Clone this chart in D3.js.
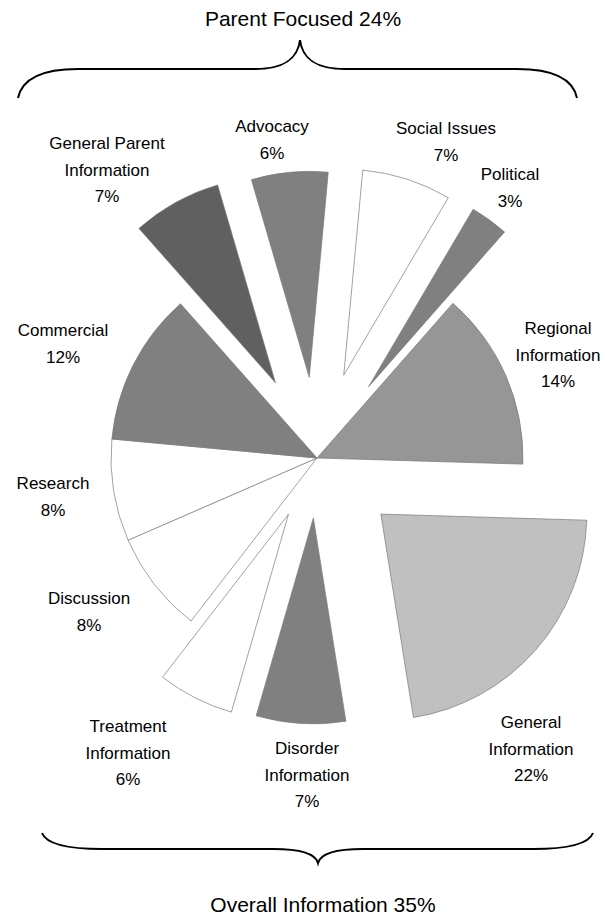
<!DOCTYPE html>
<html lang='en'>
<head>
  <meta charset='utf-8'>
  <script src="https://d3js.org/d3.v7.min.js"></script>
  <title>Exploded pie</title>
  <style>
    body { margin: 0; background: #fff; }
    text { font-family: "Liberation Sans", Arial, sans-serif; fill: #000; }
  </style>
</head>
<body>
  <div id="my_dataviz"></div>

  <script>
    // data (clockwise, starting at General Information)
    const categories = ["General\nInformation", "Disorder\nInformation", "Treatment\nInformation",
      "Discussion", "Research", "Commercial", "General Parent\nInformation", "Advocacy",
      "Social Issues", "Political", "Regional\nInformation"];
    const values = [22, 7, 6, 8, 8, 12, 7, 6, 7, 3, 14];
    const groups = ["Parent Focused", "Overall Information"];
    const groupValues = [24, 35];

    // layout
    const width = 605, height = 920;
    const cx = 317, cy = 458, radius = 206;
    const startDeg = 91.7;
    const explode = [85, 60, 63, 0, 0, 0, 86, 81, 87, 88, 0];
    const fills = ["#c0c0c0", "#808080", "#ffffff", "#ffffff", "#ffffff", "#808080",
      "#606060", "#808080", "#ffffff", "#808080", "#969696"];
    const labelAt = [[531, 722], [307, 748], [128, 726], [89, 598], [53, 483], [63, 330],
      [107, 143], [272, 126], [446, 128], [510, 174], [558, 328]];
    const lineGap = 26.7;

    const svg = d3.select("#my_dataviz")
      .append("svg")
      .attr("width", width)
      .attr("height", height);

    const rad = startDeg * Math.PI / 180;
    const pie = d3.pie().sort(null).startAngle(rad).endAngle(rad + 2 * Math.PI);
    const arc = d3.arc().innerRadius(0).outerRadius(radius);
    const arcs = pie(values);

    // slices
    svg.append("g")
      .attr("transform", `translate(${cx},${cy})`)
      .selectAll("path")
      .data(arcs)
      .join("path")
        .attr("d", arc)
        .attr("transform", function (d, i) {
          const m = (d.startAngle + d.endAngle) / 2;
          return `translate(${explode[i] * Math.sin(m)},${-explode[i] * Math.cos(m)})`;
        })
        .attr("fill", (d, i) => fills[i])
        .attr("stroke", "#7a7a7a")
        .attr("stroke-width", 0.7);

    // slice labels
    const labels = svg.append("g")
      .selectAll("text")
      .data(arcs)
      .join("text")
        .attr("text-anchor", "middle")
        .style("font-size", "17px");
    labels.each(function (d, i) {
      const lines = categories[i].split("\n").concat([values[i] + "%"]);
      d3.select(this).selectAll("tspan")
        .data(lines)
        .join("tspan")
          .attr("x", labelAt[i][0])
          .attr("y", (t, j) => labelAt[i][1] + j * lineGap)
          .attr("dy", "0.35em")
          .text(t => t);
    });

    // curly braces
    function brace(x0, x1, tipX, yEnd, yLine, yTip) {
      const e = (yEnd - yLine) * 0.35, t = (yTip - yLine) * 0.45;
      return `M${x0},${yEnd} C${x0 + 4},${yLine + e} ${x0 + 22},${yLine} ${x0 + 60},${yLine}` +
        ` L${tipX - 45},${yLine} C${tipX - 12},${yLine} ${tipX - 2},${yLine + t} ${tipX},${yTip}` +
        ` C${tipX + 2},${yLine + t} ${tipX + 12},${yLine} ${tipX + 45},${yLine}` +
        ` L${x1 - 60},${yLine} C${x1 - 22},${yLine} ${x1 - 4},${yLine + e} ${x1},${yEnd}`;
    }

    svg.append("path")
      .attr("d", brace(18, 577, 300, 98, 69, 40))
      .attr("fill", "none").attr("stroke", "#000").attr("stroke-width", 2);
    svg.append("path")
      .attr("d", brace(42, 593, 318, 833, 849, 863))
      .attr("fill", "none").attr("stroke", "#000").attr("stroke-width", 2);

    // group titles
    const groupAt = [[303, 19], [323, 905]];
    svg.append("g")
      .selectAll("text")
      .data(groups)
      .join("text")
        .attr("x", (d, i) => groupAt[i][0])
        .attr("y", (d, i) => groupAt[i][1])
        .attr("dy", "0.35em")
        .attr("text-anchor", "middle")
        .style("font-size", "21px")
        .text((d, i) => d + " " + groupValues[i] + "%");
  </script>
</body>
</html>
